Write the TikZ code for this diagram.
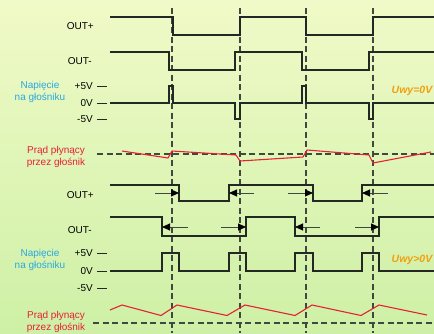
\documentclass[tikz,border=0pt]{standalone}
\usepackage{fontspec}
\setmainfont{Liberation Sans}
\usetikzlibrary{arrows.meta}
\definecolor{bgtop}{RGB}{240,250,200}
\definecolor{bgbot}{RGB}{206,240,166}
\definecolor{wave}{RGB}{36,40,36}
\definecolor{grid}{RGB}{64,72,64}
\definecolor{cur}{RGB}{232,32,52}
\definecolor{volt}{RGB}{40,168,224}
\definecolor{uwy}{RGB}{240,160,16}

\begin{document}
\begin{tikzpicture}[x=1pt,y=-1pt,font=\fontsize{10}{11.5}\selectfont,>={Triangle[length=8pt,width=7pt,color=black]},
  sig/.style={draw=wave,line width=1.2pt},
  cut/.style={draw=grid,line width=1.1pt,dash pattern=on 6pt off 3.5pt},
  lbl/.style={anchor=east,inner sep=0pt},
  tick/.style={draw=wave,line width=1pt},
  pin/.style={->,draw=grid,line width=0.9pt},
  amp/.style={cur,line width=1.1pt,line join=round}]
  \useasboundingbox (0,0) rectangle (434,333);
  \shade[top color=bgtop,bottom color=bgbot] (0,0) rectangle (434,333);
  \foreach \t in {172,240,306,373} \draw[cut] (\t,8) -- (\t,333);

  % Uwy = 0V
  \node[lbl] (outpA) at (94,26) {OUT+};
  \node[lbl] (outmA) at (92,61) {OUT-};
  \node[volt,align=center,inner sep=0pt] (uA) at (40,92) {Napięcie\\na głośniku};
  \node[lbl] (hiA) at (93,86) {+5V};
  \node[lbl] (zeA) at (93,103) {0V};
  \node[lbl] (loA) at (93,119) {-5V};
  \node[cur,align=center,inner sep=0pt] (iA) at (56,157) {Prąd płynący\\przez głośnik};
  \node[uwy,font=\fontsize{10.5}{12}\selectfont\bfseries\itshape] (uwyA) at (412,91) {Uwy=0V};
  \draw[tick] (97,86) -- (107,86) (97,103) -- (107,103) (97,119) -- (107,119);
  \draw[sig] (110,17) -- (173,17) -- (173,35) -- (240,35) -- (240,17) -- (306,17) -- (306,35) -- (373,35) -- (373,17) -- (434,17);
  \draw[sig] (110,52) -- (169,52) -- (169,70) -- (235,70) -- (235,52) -- (302,52) -- (302,70) -- (369,70) -- (369,52) -- (434,52);
  \draw[sig] (110,103) -- (169,103) -- (169,86) -- (173,86) -- (173,103) -- (235,103) -- (235,119) -- (240,119) -- (240,103)
    -- (302,103) -- (302,86) -- (306,86) -- (306,103) -- (369,103) -- (369,119) -- (373,119) -- (373,103) -- (434,103);
  \draw[cut] (97,154) -- (434,154);
  \draw[amp] (122,151) -- (168,158) -- (172,151) -- (236,155) -- (240,161) -- (303,157) -- (307,150) -- (369,155) -- (373,163) -- (431,152);

  % Uwy > 0V
  \node[lbl] (outpB) at (94,195) {OUT+};
  \node[lbl] (outmB) at (92,230) {OUT-};
  \node[volt,align=center,inner sep=0pt] (uB) at (40,260) {Napięcie\\na głośniku};
  \node[lbl] (hiB) at (93,253) {+5V};
  \node[lbl] (zeB) at (93,271) {0V};
  \node[lbl] (loB) at (93,288) {-5V};
  \node[cur,align=center,inner sep=0pt] (iB) at (56,322) {Prąd płynący\\przez głośnik};
  \node[uwy,font=\fontsize{10.5}{12}\selectfont\bfseries\itshape] (uwyB) at (412,260) {Uwy>0V};
  \draw[tick] (97,253) -- (107,253) (97,271) -- (107,271) (97,288) -- (107,288);
  \draw[sig] (110,185) -- (179,185) -- (179,201) -- (229,201) -- (229,185) -- (313,185) -- (313,201) -- (362,201) -- (362,185) -- (434,185);
  \draw[sig] (110,217) -- (162,217) -- (162,236) -- (246,236) -- (246,217) -- (295,217) -- (295,236) -- (379,236) -- (379,217) -- (434,217);
  \draw[sig] (110,271) -- (162,271) -- (162,253) -- (179,253) -- (179,271) -- (229,271) -- (229,253) -- (246,253) -- (246,271)
    -- (295,271) -- (295,253) -- (313,253) -- (313,271) -- (362,271) -- (362,253) -- (379,253) -- (379,271) -- (434,271);
  \draw[pin] (155,193) -- (179,193); \draw[pin] (254,193) -- (229,193);
  \draw[pin] (288,193) -- (313,193); \draw[pin] (388,193) -- (362,193);
  \draw[pin] (188,227) -- (162,227); \draw[pin] (221,227) -- (246,227);
  \draw[pin] (320,227) -- (295,227); \draw[pin] (355,227) -- (379,227);
  \draw[cut] (93,323) -- (434,323);
  \draw[amp] (110,310) -- (122,305) -- (161,315.5) -- (177,305) -- (227,315.5) -- (245,305) -- (295,315.5) -- (312,305) -- (361,315.5) -- (379,305) -- (427,315);
\end{tikzpicture}
\end{document}
